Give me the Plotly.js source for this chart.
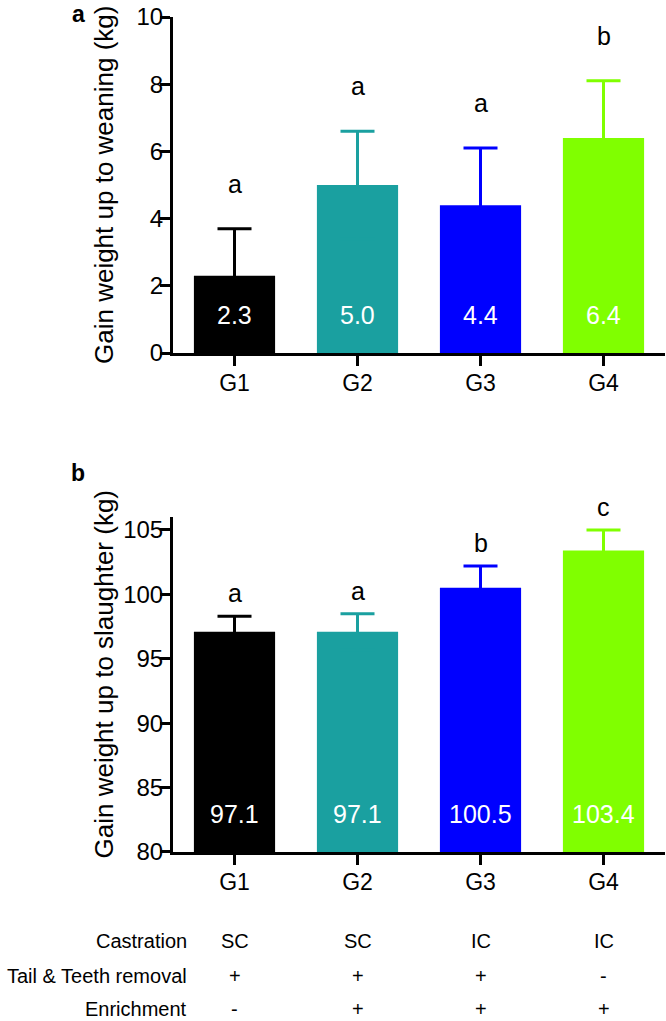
<!DOCTYPE html>
<html>
<head>
<meta charset="utf-8">
<script src="https://cdn.plot.ly/plotly-3.0.1.min.js"></script>
<style>
  body { margin: 0; background: #fff; }
  #plot { width: 666px; height: 1021px; }
</style>
</head>
<body>
<div id="plot"></div>
<script>
var groups = ['G1', 'G2', 'G3', 'G4'];
var barColors = ['#000000', '#1aa0a0', '#0000ff', '#80ff00'];

var weaningMean = [2.3, 5.0, 4.4, 6.4];
var weaningSd = [1.4, 1.6, 1.7, 1.7];
var weaningLetters = ['a', 'a', 'a', 'b'];

var slaughterMean = [97.1, 97.1, 100.5, 103.4];
var slaughterSd = [1.2, 1.4, 1.7, 1.6];
var slaughterLetters = ['a', 'a', 'b', 'c'];

var rowNames = ['Castration', 'Tail & Teeth removal', 'Enrichment'];
var castration = ['SC', 'SC', 'IC', 'IC'];
var tailTeeth = ['+', '+', '+', '-'];
var enrichment = ['-', '+', '+', '+'];

var weaningRange = [0, 10];
var slaughterRange = [80, 106];

var font = 'Arial, "Liberation Sans", Helvetica, sans-serif';

var data = [];
var annotations = [];

// one trace per group so each error bar takes the bar colour;
// the lower half of the error bar is the bar colour too, so it hides inside the bar
function addPanel(means, sds, letters, xa, ya, yMin, letterShift) {
  groups.forEach(function (g, i) {
    data.push({
      type: 'bar',
      x: [g],
      y: [means[i]],
      xaxis: xa,
      yaxis: ya,
      width: 0.66,
      marker: {color: barColors[i], line: {width: 0}},
      error_y: {type: 'data', array: [sds[i]], color: barColors[i], thickness: 3, width: 17},
      hoverinfo: 'x+y',
      showlegend: false
    });
    // value printed inside the bar
    annotations.push({
      x: g, y: yMin, xref: xa, yref: ya, yshift: 38, yanchor: 'middle',
      text: means[i].toFixed(1), showarrow: false,
      font: {family: font, size: 25, color: '#ffffff'}
    });
    // significance letter above the error bar
    annotations.push({
      x: g, y: means[i] + sds[i], xref: xa, yref: ya, yshift: letterShift, yanchor: 'middle',
      text: letters[i], showarrow: false,
      font: {family: font, size: 25, color: '#000000'}
    });
  });
}

addPanel(weaningMean, weaningSd, weaningLetters, 'x', 'y', weaningRange[0], 45);
addPanel(slaughterMean, slaughterSd, slaughterLetters, 'x2', 'y2', slaughterRange[0], 23);

// y axis titles
annotations.push({
  xref: 'paper', x: 0, xshift: -69, xanchor: 'center',
  yref: 'y domain', y: 0.5, yanchor: 'middle', textangle: -90,
  text: 'Gain weight up to weaning (kg)', showarrow: false,
  font: {family: font, size: 26, color: '#000'}
});
annotations.push({
  xref: 'paper', x: 0, xshift: -69, xanchor: 'center',
  yref: 'y2 domain', y: 0.5, yshift: 10, yanchor: 'middle', textangle: -90,
  text: 'Gain weight up to slaughter (kg)', showarrow: false,
  font: {family: font, size: 26, color: '#000'}
});

// panel letters
annotations.push({xref: 'paper', x: 0, xshift: -95, xanchor: 'center',
  yref: 'y domain', y: 1, yshift: 3, yanchor: 'middle',
  text: '<b>a</b>', showarrow: false, font: {family: font, size: 23, color: '#000'}});
annotations.push({xref: 'paper', x: 0, xshift: -95, xanchor: 'center',
  yref: 'y2 domain', y: 1, yshift: 44, yanchor: 'middle',
  text: '<b>b</b>', showarrow: false, font: {family: font, size: 23, color: '#000'}});

// treatment table under panel b
var rows = [castration, tailTeeth, enrichment];
var rowShift = [-89, -124, -157];
rows.forEach(function (row, r) {
  annotations.push({xref: 'paper', x: 0, xshift: 16, xanchor: 'right',
    yref: 'paper', y: 0, yshift: rowShift[r], yanchor: 'middle',
    text: rowNames[r], showarrow: false, font: {family: font, size: 20, color: '#000'}});
  row.forEach(function (v, i) {
    annotations.push({xref: 'x2', x: groups[i], xanchor: 'center',
      yref: 'paper', y: 0, yshift: rowShift[r], yanchor: 'middle',
      text: v, showarrow: false, font: {family: font, size: 20, color: '#000'}});
  });
});

var axisX = {
  type: 'category', range: [-0.5, 3.5],
  showline: true, linewidth: 3, linecolor: '#000',
  ticks: 'outside', ticklen: 10, tickwidth: 3, tickcolor: '#000',
  ticklabelstandoff: -3,
  tickfont: {family: font, size: 23, color: '#000'},
  showgrid: false, zeroline: false, fixedrange: true
};
var axisY = {
  showline: true, linewidth: 3, linecolor: '#000',
  ticks: 'outside', ticklen: 10, tickwidth: 3, tickcolor: '#000',
  ticklabelstandoff: -8,
  tickfont: {family: font, size: 24, color: '#000'},
  showgrid: false, zeroline: false, fixedrange: true
};

var layout = {
  width: 666,
  height: 1021,
  margin: {l: 173, r: 1, t: 17, b: 169},
  paper_bgcolor: '#fff',
  plot_bgcolor: '#fff',
  barmode: 'overlay',
  showlegend: false,
  xaxis: Object.assign({}, axisX, {anchor: 'y'}),
  yaxis: Object.assign({}, axisY, {domain: [0.5976, 1], range: weaningRange, dtick: 2, anchor: 'x'}),
  xaxis2: Object.assign({}, axisX, {anchor: 'y2'}),
  yaxis2: Object.assign({}, axisY, {domain: [0, 0.4012], range: slaughterRange,
                                    tickvals: [80, 85, 90, 95, 100, 105], anchor: 'x2'}),
  annotations: annotations
};

Plotly.newPlot('plot', data, layout, {displayModeBar: false, staticPlot: true});
</script>
</body>
</html>
